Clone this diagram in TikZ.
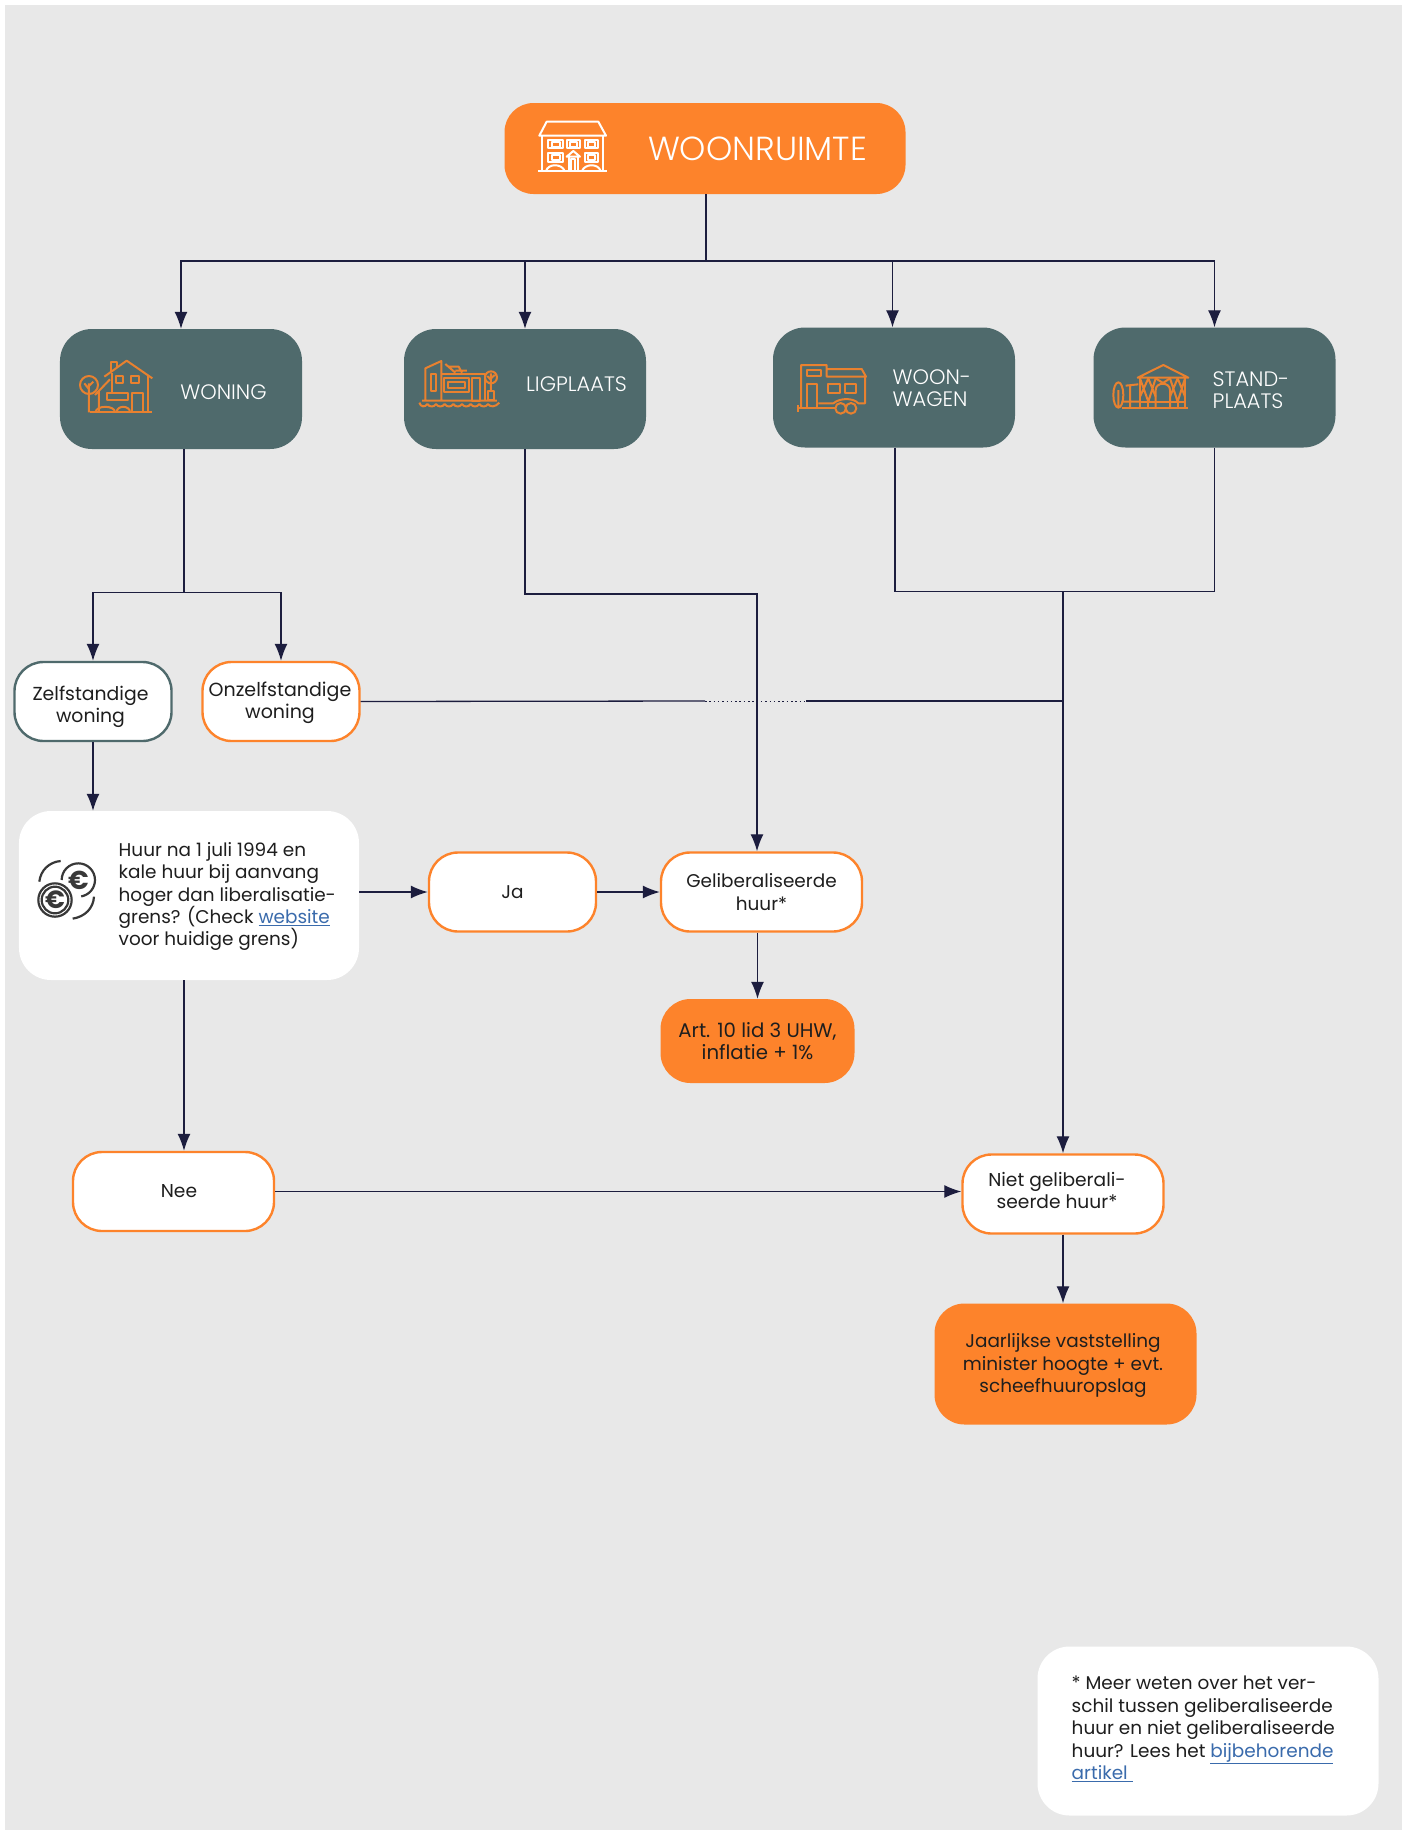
\documentclass[tikz,border=0pt]{standalone}
\usepackage{fontspec}
\setmainfont{Poppins}
\newfontfamily\dunfont{Poppins Light}
\usetikzlibrary{arrows.meta}
\definecolor{grijs}{HTML}{E8E8E8}
\definecolor{oranje}{HTML}{FD832B}
\definecolor{icoon}{HTML}{E9812F}
\definecolor{groen}{HTML}{4F6A6C}
\definecolor{lijn}{HTML}{1C1D3E}
\definecolor{inkt}{HTML}{1E1E1E}
\definecolor{link}{HTML}{3A6BAC}
\definecolor{munt}{HTML}{383838}
\tikzset{
  hoofd/.style={rectangle,rounded corners=32bp,fill=groen,minimum width=242bp,minimum height=120bp,inner sep=0pt},
  hoofdtekst/.style={text=white,align=left,inner sep=0pt,font=\dunfont\fontsize{21}{22.5}\selectfont},
  pil/.style={rectangle,rounded corners=29bp,fill=white,draw=oranje,line width=2.4bp,text=inkt,align=center,inner sep=0pt,
    minimum height=79bp,font=\fontsize{18.5}{22.5}\selectfont},
  piltekst/.style={text=inkt,align=center,inner sep=0pt,font=\fontsize{18.7}{22.5}\selectfont},
  blok/.style={rectangle,rounded corners=30bp,fill=oranje,text=inkt,align=center,inner sep=0pt,font=\fontsize{18.5}{22.5}\selectfont},
  wit/.style={rectangle,rounded corners=32bp,fill=white,inner sep=0pt},
  wittekst/.style={text=inkt,align=left,inner sep=0pt,font=\fontsize{18.5}{22.5}\selectfont},
  verbinding/.style={draw=lijn,line width=1.3bp},
  pijl/.style={verbinding,-{Latex[length=17bp,width=13bp]}},
  icoonwit/.style={draw=white,line width=2bp,line join=round},
  icoonoranje/.style={draw=icoon,line width=2bp,line join=round},
  icoonmunt/.style={draw=munt,line width=2.2bp},
}
\newcommand{\lnk}[1]{\textcolor{link}{\underline{#1}}}
\begin{document}
\begin{tikzpicture}[x=1bp,y=-1bp]
%%
\useasboundingbox (0,0) rectangle (1407,1830);
\fill[white] (0,0) rectangle (1407,1830);
\fill[grijs] (5,5) rectangle (1402,1830);
%% boxes
  \node (woonruimte) at (705,148.5) [hoofd,fill=oranje,rounded corners=29bp,minimum width=401bp,minimum height=91bp] {};
  \node (woning) at (181,389) [hoofd] {};
  \node (ligplaats) at (525,389) [hoofd] {};
  \node (wagen) at (894,387.5) [hoofd] {};
  \node (stand) at (1214.5,387.5) [hoofd] {};
  \node (woonruimtelabel) at (757.5,149) [hoofdtekst,font=\dunfont\fontsize{33.5}{36}\selectfont] {WOONRUIMTE};
  \node (woninglabel) at (223.5,392) [hoofdtekst] {WONING};
  \node (ligplaatslabel) at (576.5,384) [hoofdtekst] {LIGPLAATS};
  \node (wagenlabel) at (892.5,388) [hoofdtekst,anchor=west] {WOON-\\WAGEN};
  \node (standlabel) at (1212.5,390) [hoofdtekst,anchor=west] {STAND-\\PLAATS};
  \node (zelf) at (93,701.5) [pil,draw=groen,minimum width=157bp] {};
  \node (zelflabel) at (90.5,707) [piltekst,font=\fontsize{18.9}{22.5}\selectfont] {Zelfstandige\\woning};
  \node (onzelf) at (281,701.5) [pil,minimum width=157bp] {};
  \node (onzelflabel) at (280,702.5) [piltekst,font=\fontsize{19.1}{22.5}\selectfont] {Onzelfstandige\\woning};
  \node (huur) at (189,895.5) [wit,minimum width=340bp,minimum height=169bp] {};
  \node (huurlabel) at (118.5,896.5) [wittekst,anchor=west] {Huur na 1 juli 1994 en\\kale huur bij aanvang\\hoger dan liberalisatie-\\grens? (Check \lnk{website}\\voor huidige grens)};
  \node (ja) at (512.5,892) [pil,minimum width=167bp] {Ja};
  \node (gelib) at (761.5,892) [pil,minimum width=201bp] {Geliberaliseerde\\huur*};
  \node (art) at (757.5,1041) [blok,minimum width=194bp,minimum height=84bp,font=\fontsize{19.8}{22.5}\selectfont] {Art. 10 lid 3 UHW,\\inflatie + 1\%};
  \node (nee) at (173.5,1191.5) [pil,minimum width=201bp] {};
  \node (neelabel) at (179,1191) [piltekst] {Nee};
  \node (niet) at (1063,1194) [pil,minimum width=201bp] {};
  \node (nietlabel) at (1057,1190.5) [piltekst] {Niet geliberali-\\seerde huur*};
  \node (jaarlijks) at (1065.5,1364) [blok,minimum width=262bp,minimum height=121bp] {};
  \node (jaarlijkslabel) at (1063,1365.5) [piltekst,font=\fontsize{18.5}{22.5}\selectfont] {Jaarlijkse vaststelling\\minister hoogte + evt.\\scheefhuuropslag};
  \node (noot) at (1208,1731) [wit,minimum width=341bp,minimum height=169bp] {};
  \node (nootlabel) at (1071.5,1729) [wittekst,anchor=west] {* Meer weten over het ver-\\schil tussen geliberaliseerde\\huur en niet geliberaliseerde\\huur? Lees het \lnk{bijbehorende}\\\lnk{artikel\ }};
%% connectors
  \coordinate (bus) at (706,261);
  \draw [verbinding] (bus |- woonruimte.south) -- (bus);
  \draw [pijl] (bus) -| (woning.north);
  \draw [pijl] (bus) -| (ligplaats.north);
  \draw [pijl] (bus) -| ([xshift=-1.5bp]wagen.north);
  \draw [pijl] (bus) -| (stand.north);
  \coordinate (woningsplit) at (184,592.5);
  \draw [verbinding] (woningsplit |- woning.south) -- (woningsplit);
  \draw [pijl] (woningsplit) -| (zelf.north);
  \draw [pijl] (woningsplit) -| (onzelf.north);
  \coordinate (ligbocht) at (757,594);
  \draw [pijl] (ligplaats.south) |- (ligbocht) -- (ligbocht |- gelib.north);
  \coordinate (samen) at (1063,591.5);
  \draw [verbinding] ([xshift=1bp]wagen.south) |- (samen);
  \draw [verbinding] (stand.south) |- (samen);
  \draw [pijl] (samen) -- (samen |- niet.north);
  \coordinate (stipbegin) at (705,701);
  \coordinate (stipeind) at (806,701);
  \draw [verbinding] (onzelf.east) -- (stipbegin);
  \draw [verbinding,line width=1bp,dash pattern=on 1.5bp off 2.8bp] (stipbegin) -- (stipeind);
  \draw [verbinding] (stipeind) -- (stipeind -| samen);
  \draw [pijl] (zelf.south) -- (zelf.south |- huur.north);
  \draw [pijl] (huur.east |- ja.west) -- (ja.west);
  \draw [pijl] (ja.east) -- (gelib.west);
  \draw [pijl] (art.north |- gelib.south) -- (art.north);
  \draw [pijl] (woningsplit |- huur.south) -- (woningsplit |- nee.north);
  \draw [pijl] (nee.east) -- (nee.east -| niet.west);
  \draw [pijl] (niet.south) -- (niet.south |- jaarlijks.north);
%% building
\begin{scope}[shift={(530,115)},scale=0.3333,icoonwit]
  \draw (28,62) -- (50,20) -- (205,20) -- (228,62) -- cycle;
  \draw (37,62) -- (37,168) (218,62) -- (218,168);
  \draw (25,168) -- (230,168);
  \draw (55,75) rectangle (100,100) (66,80) rectangle (90,95);
  \draw (110,75) rectangle (150,100) (120,80) rectangle (140,95);
  \draw (165,75) rectangle (205,100) (175,80) rectangle (195,95);
  \draw (55,115) rectangle (100,140) (66,120) rectangle (90,135);
  \draw (165,115) rectangle (205,140) (175,120) rectangle (195,135);
  \draw (110,125) -- (130,108) -- (150,125) -- cycle;
  \draw (116,125) -- (116,168) (144,125) -- (144,168) (124,132) rectangle (136,168);
  \draw (48,168) .. controls (55,145) and (95,145) .. (104,168);
  \draw (156,168) .. controls (165,145) and (205,145) .. (212,168);
\end{scope}
%% house
\begin{scope}[shift={(75,350)},scale=0.3333,icoonoranje]
  \draw (45,187) -- (230,187);
  \draw (88,80) -- (155,32) -- (232,85);
  \draw (108,64) -- (108,37) -- (125,37) -- (125,50);
  \draw (218,75) -- (218,187) (110,70) -- (110,125);
  \draw (105,88) -- (60,135) (72,125) -- (72,187);
  \draw (122,78) rectangle (145,98) (168,78) rectangle (192,98);
  \draw (95,128) rectangle (158,150) (170,128) rectangle (205,187);
  \draw (42,105) circle (27);
  \draw (42,187) -- (42,100) (42,118) -- (28,100) (42,108) -- (55,95);
  \draw (62,187) .. controls (62,165) and (120,165) .. (120,187);
  \draw (125,187) .. controls (125,165) and (165,165) .. (165,187);
\end{scope}
%% boat
\begin{scope}[shift={(412,350)},scale=0.3333,icoonoranje]
  \draw (30,152) -- (255,152) (40,152) -- (40,55) -- (88,33) -- (88,152);
  \draw (58,72) rectangle (72,122);
  \draw (88,72) -- (218,72) -- (218,152);
  \draw (95,85) rectangle (170,125) (107,95) rectangle (158,115);
  \draw (180,85) rectangle (205,152);
  \draw (100,42) -- (130,68) (110,50) -- (140,50) -- (150,68) (130,62) -- (165,62);
  \draw (237,82) circle (18) (237,70) -- (237,125) (237,90) -- (226,78) (237,85) -- (248,75);
  \draw (228,122) rectangle (246,150);
  \draw (22,158) .. controls (26,172) and (40,172) .. (46,162) .. controls (52,172) and (66,172) .. (72,162) .. controls (78,172) and (92,172) .. (98,162) .. controls (104,172) and (118,172) .. (124,162) .. controls (130,172) and (144,172) .. (150,162) .. controls (156,172) and (170,172) .. (176,162) .. controls (182,172) and (196,172) .. (202,162) .. controls (208,172) and (222,172) .. (228,162) .. controls (234,172) and (250,172) .. (262,158);
\end{scope}
%% caravan
\begin{scope}[shift={(790,355)},scale=0.3333,icoonoranje]
  \draw (33,160) -- (33,30) -- (110,30) -- (110,65) -- (228,65) -- (215,42) -- (110,42);
  \draw (50,45) rectangle (92,62) (50,88) rectangle (82,160);
  \draw (115,88) rectangle (150,115) (165,88) rectangle (197,115);
  \draw (225,65) -- (225,145) -- (205,145) .. controls (190,128) and (150,128) .. (130,145) -- (85,145);
  \draw (20,160) -- (135,160) (25,150) -- (25,172);
  \draw (152,160) circle (16) (183,160) circle (16);
\end{scope}
%% yurt
\begin{scope}[shift={(1105,355)},scale=0.3333,icoonoranje]
  \draw (98,68) -- (175,30) -- (250,68) -- cycle;
  \draw (105,68) -- (105,158) (240,68) -- (240,158) (50,158) -- (250,158);
  \draw (152,158) -- (152,105) .. controls (152,80) and (195,80) .. (195,105) -- (195,158);
  \draw (105,140) -- (240,140) (130,140) -- (130,158) (218,140) -- (218,158);
  \draw (105,70) -- (130,140) -- (152,70) (130,70) -- (105,125) (130,70) -- (152,125);
  \draw (195,70) -- (218,140) -- (240,70) (218,70) -- (195,125) (218,70) -- (240,125);
  \draw (152,70) -- (174,84) -- (195,70);
  \draw (62,92) -- (100,88) (75,92) -- (75,158) (50,140) -- (105,140);
  \draw (40,120) ellipse (15 and 38) (40,105) -- (40,158);
\end{scope}
%% coins
\begin{scope}[shift={(30,850)},scale=0.3333,icoonmunt]
  \draw (95,90) arc[start angle=180,end angle=440,radius=50];
  \draw (75,150) circle (50) (75,150) circle (40);
  \draw (28,95) .. controls (32,60) and (58,36) .. (92,33);
  \draw (192,140) .. controls (190,175) and (165,200) .. (128,206);
  \node (eurotop) at (145,90) [text=munt,font=\bfseries\fontsize{26}{26}\selectfont,inner sep=0pt] {€};
  \node (eurobottom) at (75,150) [text=munt,font=\bfseries\fontsize{25}{25}\selectfont,inner sep=0pt] {€};
\end{scope}
%
\end{tikzpicture}
\end{document}
